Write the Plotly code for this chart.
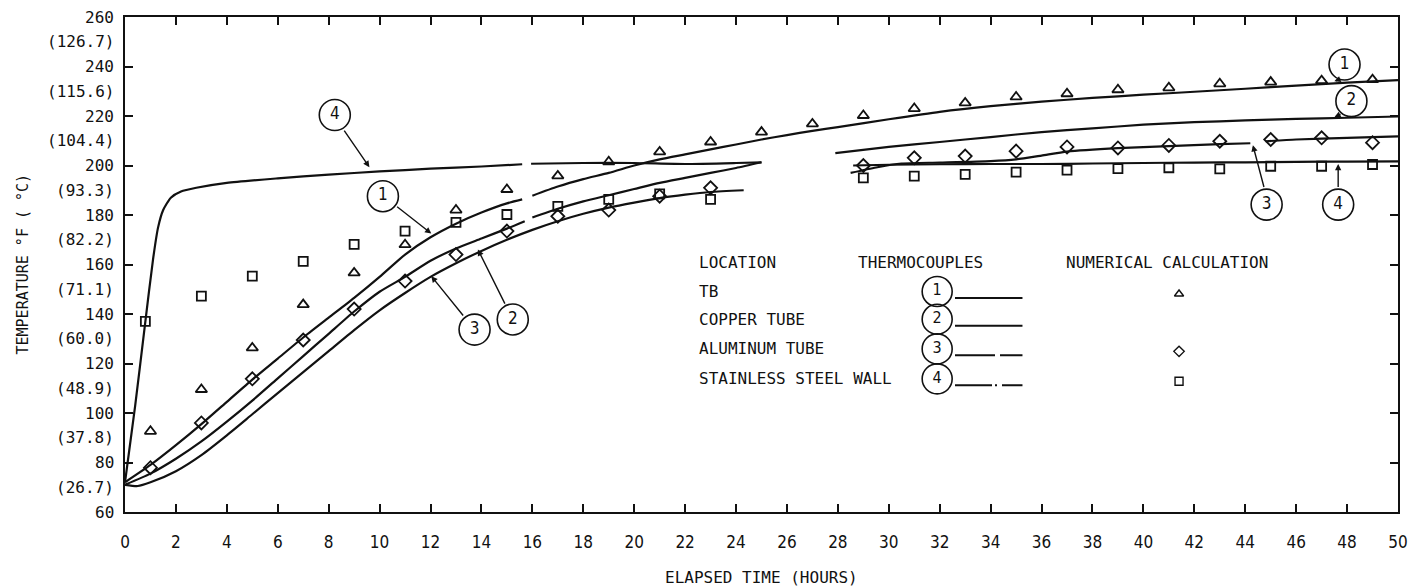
import plotly.graph_objects as go

# ---- measured thermocouple curves (deg F vs elapsed hours); None = break in trace ----
tb_x = [0, 1, 2, 3, 4, 5, 6, 7, 8, 9, 10, 11, 12, 13, 14, 15, 15.6, None, 16.0, 17, 18, 19, 20, 21, 22, 23,
        24, 25, 26, 27, 28, 30, 32, 34, 36, 38, 40, 42, 44, 46, 48, 50]
tb_y = [72, 79, 87, 95.5, 104.5, 113.5, 122, 130.5, 138.5, 146.5, 155, 164, 171, 176.5, 181, 184.7, 186.3, None,
        187.8, 191.5, 194.5, 197, 200, 202.5, 204.5, 206.5, 208.5, 210.5, 212.3, 214, 215.5, 218.7, 221.7, 224,
        225.8, 227.3, 228.6, 229.8, 231, 232.3, 233.5, 234.5]

cu_x = [0, 1, 2, 3, 4, 5, 6, 7, 8, 9, 10, 11, 12, 13, 14, 15, 15.7, None, 16.0, 17, 18, 19, 20, 21, 22, 23, 24,
        25.0, None, 27.9, 30, 32, 34, 36, 38, 40, 42, 44, 46, 48, 50]
cu_y = [71, 75.5, 81.5, 88.5, 96.5, 105, 114, 123, 132, 141, 149, 155, 161.5, 166.5, 170.5, 174.5, 177.5, None,
        179, 182.5, 185.5, 188, 190.5, 193, 195, 197, 199, 201.3, None, 205, 207.5, 209.5, 211.5, 213.5, 215,
        216.5, 217.5, 218.2, 218.8, 219.3, 219.8]

al_x = [0, 0.5, 1, 2, 3, 4, 5, 6, 7, 8, 9, 10, 11, 12, 13, 14, 15, 16, 17, 18, 19, 20, 21, 22, 23, 24.3, None,
        28.5, 29.5, 30.5, 32, 34, 35, 36, 37, 39, 41, 43, 44.2, None, 44.8, 46, 48, 50]
al_y = [71, 70.5, 72, 76.5, 83, 91, 99.5, 108, 116.5, 125, 133.5, 141.5, 148.5, 155, 160.5, 165.5, 170, 174,
        177.5, 180.5, 183, 185, 186.8, 188.2, 189.3, 190, None, 197, 199.2, 200.8, 201.2, 201.8, 202.5, 204,
        205.6, 207, 207.8, 208.6, 209, None, 209.8, 210.5, 211.2, 211.8]

ss_x = [0, 0.4, 0.8, 1.1, 1.3, 1.5, 1.8, 2.2, 2.8, 4, 6, 8, 10, 12, 14, 15.6, None, 15.95, 18, 20, 22, 24, 25.0,
        None, 28.6, 30, 32, 34, 36, 38, 40, 42, 44, 46, 48, 50]
ss_y = [72, 103, 137, 162, 175, 182, 187, 189.5, 191, 193, 194.8, 196.3, 197.6, 198.7, 199.6, 200.5, None, 200.7,
        201, 201, 200.6, 201, 201.3, None, 200, 200.3, 200.5, 200.6, 200.6, 200.8, 201, 201.2, 201.3, 201.5,
        201.6, 201.7]

# ---- numerical calculation points ----
tri_x = [1, 3, 5, 7, 9, 11, 13, 15, 17, 19, 21, 23, 25, 27, 29, 31, 33, 35, 37, 39, 41, 43, 45, 47, 49]
tri_y = [92.6, 109.5, 126.3, 143.8, 156.6, 168, 182, 190.3, 195.8, 201.5, 205.5, 209.5, 213.5, 216.8, 220.2,
         223, 225.3, 227.7, 229, 230.6, 231.4, 233, 233.7, 234.3, 234.7]
dia_x = [1, 3, 5, 7, 9, 11, 13, 15, 17, 19, 21, 23, 29, 31, 33, 35, 37, 39, 41, 43, 45, 47, 49]
dia_y = [77.9, 96, 113.8, 129.5, 142, 153.3, 164, 173.5, 179.5, 182, 187.6, 191, 200, 203.1, 203.8, 205.8,
         207.5, 207.1, 208.1, 209.8, 210.5, 211.2, 209.2]
sq_x = [0.8, 3, 5, 7, 9, 11, 13, 15, 17, 19, 21, 23, 29, 31, 33, 35, 37, 39, 41, 43, 45, 47, 49]
sq_y = [137, 147.2, 155.3, 161.3, 168.1, 173.5, 177, 180.2, 183.5, 186.3, 188.5, 186.3, 195, 195.7, 196.4,
        197.3, 198.1, 198.7, 199.1, 198.6, 199.7, 199.7, 200.4]

# ---- axis labels ----
f_ticks = [60, 80, 100, 120, 140, 160, 180, 200, 220, 240, 260]
c_labels = ["(15.6)", "(26.7)", "(37.8)", "(48.9)", "(60.0)", "(71.1)", "(82.2)", "(93.3)", "(104.4)",
            "(115.6)", "(126.7)"]
x_ticks = list(range(0, 51, 2))

# ---- curve callouts: (number, circle x, circle y, leader tail x, tail y, arrow tip x, tip y) ----
callouts = [
    ("4", 8.24, 220.4, 8.57, 214.7, 9.6, 199.3),
    ("1", 10.13, 187.6, 10.63, 183.8, 12.03, 172.5),
    ("3", 13.73, 133.7, 13.33, 138.8, 12.03, 155.3),
    ("2", 15.23, 137.8, 14.95, 143.6, 13.86, 166.1),
    ("1", 47.9, 240.8, 47.7, 234.8, 47.5, 234.0),
    ("2", 48.17, 226.0, 47.8, 221.0, 47.5, 219.5),
    ("3", 44.84, 184.2, 44.75, 190.7, 44.3, 208.2),
    ("4", 47.65, 184.2, 47.65, 190.7, 47.65, 200.6),
]

# ---- key table ----
key_head = [("LOCATION", 22.45), ("THERMOCOUPLES", 28.7), ("NUMERICAL CALCULATION", 36.9)]
key_head_y = 160.8
key_rows = ["TB", "COPPER TUBE", "ALUMINUM TUBE", "STAINLESS STEEL WALL"]
key_row_y = [149.1, 137.9, 125.9, 113.8]
key_num = ["1", "2", "3", "4"]
key_dash = ["solid", "solid", "40px,5px,23px,200px", "37px,3px,2px,5px,24px,200px"]
key_marker = ["triangle-up-open", None, "diamond-open", "square-open"]

INK = "#111111"
TXT = "DejaVu Sans Mono, Liberation Mono, monospace"
NARROW = "Liberation Sans Narrow, DejaVu Sans Condensed, sans-serif"

fig = go.Figure()

line_style = dict(color=INK, width=2.2)
for name, xs, ys in [("TB", tb_x, tb_y), ("COPPER TUBE", cu_x, cu_y),
                     ("ALUMINUM TUBE", al_x, al_y), ("STAINLESS STEEL WALL", ss_x, ss_y)]:
    fig.add_trace(go.Scatter(x=xs, y=ys, mode="lines", line=line_style, name=name,
                             connectgaps=False, showlegend=False, line_shape="spline",
                             line_smoothing=0.6))

mk_line = dict(color=INK, width=1.8)
fig.add_trace(go.Scatter(x=tri_x, y=tri_y, mode="markers", showlegend=False,
                         marker=dict(symbol="triangle-up-open", size=10, color=INK, line=mk_line)))
fig.add_trace(go.Scatter(x=dia_x, y=dia_y, mode="markers", showlegend=False,
                         marker=dict(symbol="diamond-open", size=10, color=INK, line=mk_line)))
fig.add_trace(go.Scatter(x=sq_x, y=sq_y, mode="markers", showlegend=False,
                         marker=dict(symbol="square-open", size=9, color=INK, line=mk_line)))

annotations = []

# callout circles with leader arrows
fig.add_trace(go.Scatter(
    x=[c[1] for c in callouts], y=[c[2] for c in callouts], mode="markers+text",
    text=[c[0] for c in callouts], textposition="middle center",
    textfont=dict(family=NARROW, size=17, color=INK), showlegend=False,
    marker=dict(symbol="circle-open", size=31, color=INK, line=dict(color=INK, width=1.6))))
for num, cx, cy, tx, ty, ax_, ay_ in callouts:
    annotations.append(dict(x=ax_, y=ay_, ax=tx, ay=ty, xref="x", yref="y", axref="x", ayref="y",
                            text="", showarrow=True, arrowhead=2, arrowsize=0.9, arrowwidth=1.4,
                            arrowcolor=INK, standoff=0, startstandoff=0))

# key table text
for label, kx in key_head:
    annotations.append(dict(x=kx, y=key_head_y, xref="x", yref="y", text=label, showarrow=False,
                            xanchor="left", yanchor="middle",
                            font=dict(family=TXT, size=16, color=INK)))
for label, ky in zip(key_rows, key_row_y):
    annotations.append(dict(x=22.45, y=ky, xref="x", yref="y", text=label, showarrow=False,
                            xanchor="left", yanchor="middle",
                            font=dict(family=TXT, size=16, color=INK)))

fig.add_trace(go.Scatter(
    x=[31.9] * 4, y=key_row_y, mode="markers+text", text=key_num, textposition="middle center",
    textfont=dict(family=NARROW, size=16, color=INK), showlegend=False,
    marker=dict(symbol="circle-open", size=30, color=INK, line=dict(color=INK, width=1.6))))

shapes = []
for ky, dash in zip(key_row_y, key_dash):
    shapes.append(dict(type="line", xref="x", yref="y", x0=32.6, x1=35.25, y0=ky - 2.6, y1=ky - 2.6,
                       line=dict(color=INK, width=2, dash=dash)))

km = [(s, y) for s, y in zip(key_marker, key_row_y) if s]
fig.add_trace(go.Scatter(x=[41.4] * len(km), y=[y - 1 for _, y in km], mode="markers", showlegend=False,
                         marker=dict(symbol=[s for s, _ in km], size=8, color=INK,
                                     line=dict(color=INK, width=1.4))))

# two-scale temperature labels on the left
for f, c in zip(f_ticks, c_labels):
    annotations.append(dict(x=0, y=f, xref="paper", yref="y", text=str(f), showarrow=False,
                            xanchor="right", yanchor="middle", xshift=-9,
                            font=dict(family=TXT, size=16, color=INK)))
    annotations.append(dict(x=0, y=f - 10, xref="paper", yref="y", text=c, showarrow=False,
                            xanchor="right", yanchor="middle", xshift=-9,
                            font=dict(family=TXT, size=16, color=INK)))

annotations.append(dict(x=0, y=0.5, xref="paper", yref="paper", text="TEMPERATURE °F ( °C)",
                        showarrow=False, textangle=-90, xanchor="center", yanchor="middle", xshift=-103,
                        font=dict(family=TXT, size=15, color=INK)))
annotations.append(dict(x=0.5, y=0, xref="paper", yref="paper", text="ELAPSED TIME (HOURS)",
                        showarrow=False, xanchor="center", yanchor="middle", yshift=-65,
                        font=dict(family=TXT, size=16, color=INK)))

fig.update_layout(
    width=1420, height=587,
    margin=dict(l=125, r=22, t=17, b=75),
    paper_bgcolor="white", plot_bgcolor="white",
    annotations=annotations, shapes=shapes,
    xaxis=dict(range=[0, 50], tickvals=x_ticks, ticktext=[str(v) for v in x_ticks],
               ticks="inside", ticklen=8, tickwidth=1.6, tickcolor=INK,
               showline=True, linecolor=INK, linewidth=2, mirror="ticks",
               showgrid=False, zeroline=False, ticklabelstandoff=14,
               tickfont=dict(family=NARROW, size=17, color=INK)),
    yaxis=dict(range=[60, 260], tickvals=f_ticks, showticklabels=False,
               ticks="inside", ticklen=8, tickwidth=1.6, tickcolor=INK,
               showline=True, linecolor=INK, linewidth=2, mirror="ticks",
               showgrid=False, zeroline=False),
)

fig.write_html("out.html")
